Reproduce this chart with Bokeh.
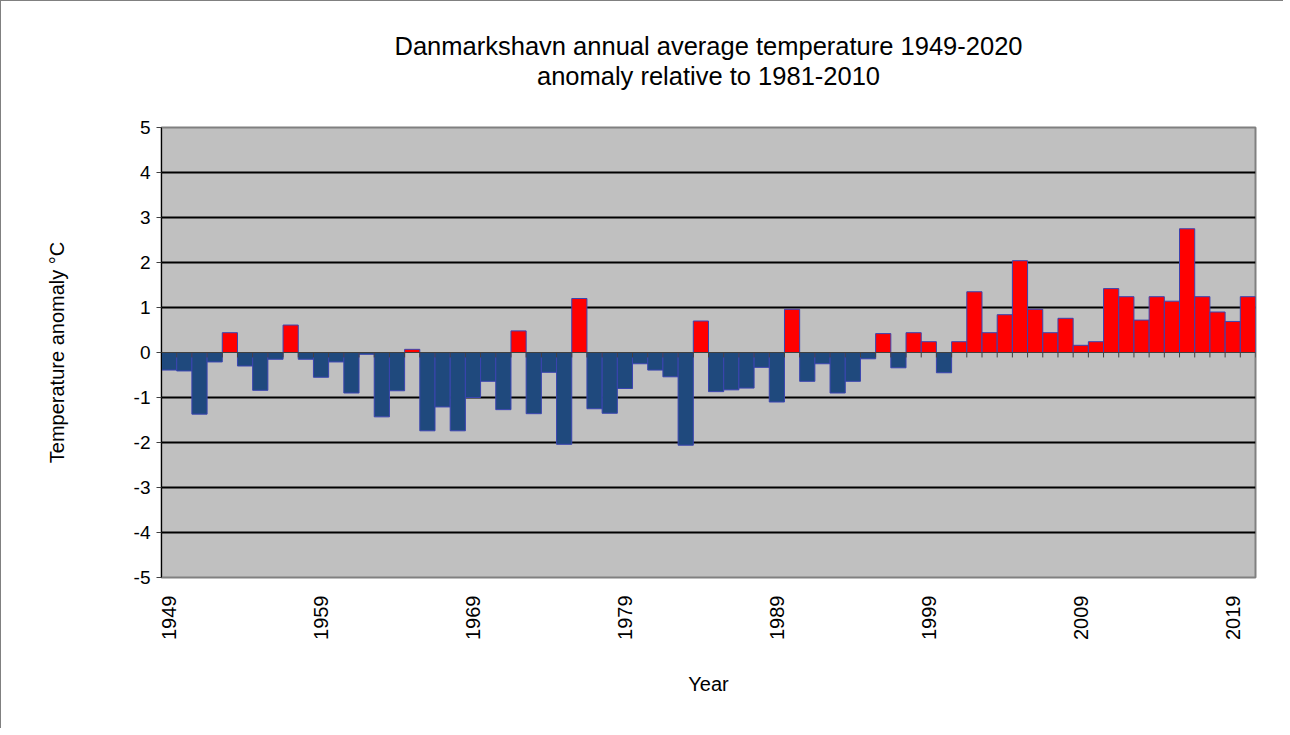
import math
from bokeh.plotting import figure
from bokeh.models import ColumnDataSource, FixedTicker, Range1d, Span, Title
from bokeh.embed import file_html
from bokeh.resources import INLINE

# ---- data ----
years = list(range(1949, 2021))
anomaly = [
    -0.39, -0.41, -1.37, -0.21, 0.44, -0.30, -0.84, -0.15, 0.61, -0.15,   # 1949-1958
    -0.55, -0.21, -0.90, -0.04, -1.43, -0.85, 0.07, -1.74, -1.21, -1.74,  # 1959-1968
    -1.00, -0.64, -1.27, 0.48, -1.36, -0.44, -2.04, 1.20, -1.25, -1.35,   # 1969-1978
    -0.80, -0.25, -0.39, -0.54, -2.06, 0.70, -0.87, -0.83, -0.79, -0.33,  # 1979-1988
    -1.10, 0.96, -0.64, -0.25, -0.90, -0.64, -0.14, 0.42, -0.34, 0.44,    # 1989-1998
    0.24, -0.45, 0.24, 1.35, 0.44, 0.84, 2.04, 0.96, 0.44, 0.76,          # 1999-2008
    0.16, 0.24, 1.42, 1.24, 0.72, 1.24, 1.14, 2.75, 1.24, 0.90,           # 2009-2018
    0.69, 1.24,                                                           # 2019-2020
]
label_years = [1949, 1959, 1969, 1979, 1989, 1999, 2009, 2019]
y_ticks = [-5, -4, -3, -2, -1, 0, 1, 2, 3, 4, 5]
title_line1 = "Danmarkshavn annual average temperature 1949-2020"
title_line2 = "anomaly relative to 1981-2010"

FONT = "Liberation Sans"
POS_COLOR = "#FF0000"
NEG_COLOR = "#1F497D"

colors = [POS_COLOR if v >= 0 else NEG_COLOR for v in anomaly]
src = ColumnDataSource(dict(x=years, top=anomaly, color=colors))

x_lo, x_hi = years[0] - 0.5, years[-1] + 0.5
y_lo, y_hi = y_ticks[0], y_ticks[-1]

p = figure(
    frame_width=1094, frame_height=450,
    min_border_left=160, min_border_right=28, min_border_top=126, min_border_bottom=151,
    x_range=Range1d(x_lo, x_hi),
    y_range=Range1d(y_lo, y_hi),
    output_backend="svg", toolbar_location=None,
    background_fill_color="#C0C0C0", border_fill_color="white",
)
p.styles = {"border-left": "1px solid #808080", "border-top": "1px solid #808080"}
p.outline_line_color = "#808080"
p.outline_line_width = 2

# grid
p.xgrid.visible = False
p.ygrid.ticker = FixedTicker(ticks=[t for t in y_ticks if t not in (0, y_lo, y_hi)])
p.ygrid.grid_line_color = "black"
p.ygrid.grid_line_width = 2

# bars
p.vbar(x="x", top="top", bottom=0, width=1.0, source=src,
       fill_color="color", line_color="#3A44B0", line_width=1)

# zero axis line and category ticks
p.add_layout(Span(location=0, dimension="width", line_color="#404040", line_width=1))
bounds = [y - 0.5 for y in years] + [years[-1] + 0.5]
p.segment(x0=bounds, y0=[0] * len(bounds), x1=bounds, y1=[-0.11] * len(bounds),
          line_color="#404040", line_width=1)

# y axis
ya = p.yaxis[0]
ya.ticker = FixedTicker(ticks=y_ticks)
ya.major_label_overrides = {t: str(t) for t in y_ticks}
ya.major_tick_out = 5
ya.major_tick_in = 0
ya.minor_tick_line_color = None
ya.axis_line_color = "black"
ya.major_tick_line_color = "#404040"
ya.major_label_text_font = FONT
ya.major_label_text_font_size = "19px"
ya.major_label_text_color = "black"
ya.major_label_standoff = 6
ya.axis_label = "Temperature anomaly °C"
ya.axis_label_text_font = FONT
ya.axis_label_text_font_size = "20px"
ya.axis_label_text_font_style = "normal"
ya.axis_label_text_color = "black"
ya.axis_label_standoff = 63

# x axis
xa = p.xaxis[0]
xa.ticker = FixedTicker(ticks=label_years)
xa.major_tick_out = 0
xa.major_tick_in = 0
xa.minor_tick_line_color = None
xa.axis_line_color = None
xa.major_label_orientation = math.pi / 2
xa.major_label_text_font = FONT
xa.major_label_text_font_size = "20px"
xa.major_label_text_color = "black"
xa.major_label_standoff = 18
xa.axis_label = "Year"
xa.axis_label_text_font = FONT
xa.axis_label_text_font_size = "20px"
xa.axis_label_text_font_style = "normal"
xa.axis_label_text_color = "black"
xa.axis_label_standoff = 30

# title: spacer (nearest the frame), then two centred lines stacked above it
p.title.text = ""
p.add_layout(Title(text=" ", text_font_size="1px", standoff=35), "above")

def make_title(txt):
    return Title(text=txt, align="center", standoff=0, text_font=FONT,
                 text_font_size="25.5px", text_font_style="normal", text_color="black")

p.add_layout(make_title(title_line2), "above")
p.add_layout(make_title(title_line1), "above")

open("out.html", "w").write(file_html(p, INLINE))
